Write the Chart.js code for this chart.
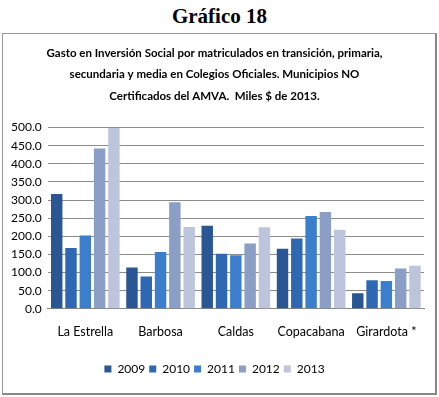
<!DOCTYPE html>
<html>
<head>
<meta charset="utf-8">
<script src="https://cdn.jsdelivr.net/npm/chart.js@4/dist/chart.umd.min.js"></script>
<style>
  body { margin: 0; background: #fff; width: 439px; height: 397px; position: relative; overflow: hidden; }
  #head { position: absolute; left: 0; top: 4px; width: 439px; text-align: center;
          font: bold 21px "Liberation Serif", serif; color: #000; }
  #box { position: absolute; left: 2px; top: 33px; width: 432px; height: 359px;
         border: 1px solid #999; border-right: 2px solid #888; border-bottom: 2px solid #888; }
  #wrap { position: absolute; left: 0; top: 0; width: 432px; height: 359px; }
</style>
</head>
<body>
<div id="head">Gráfico 18</div>
<div id="box"><div id="wrap"><canvas id="bar"></canvas></div></div>
<script>
// municipios
var categories = ["La Estrella", "Barbosa", "Caldas", "Copacabana", "Girardota *"];

// gasto por año (miles $ de 2013)
var years = ["2009", "2010", "2011", "2012", "2013"];
var values2009 = [317, 114, 229, 166, 43];
var values2010 = [168, 89, 152, 194, 79];
var values2011 = [202, 157, 148, 256, 77];
var values2012 = [442, 294, 180, 267, 111];
var values2013 = [499, 226, 225, 218, 119];

var colors = ["#2a5694", "#2f68b2", "#3b7ecb", "#8a9ec6", "#bcc5dc"];

var titleLines = [
  "Gasto en Inversión Social por matriculados en transición, primaria,",
  "secundaria y media en Colegios Oficiales. Municipios NO",
  "Certificados del AMVA.  Miles $ de 2013."
];

var font = "Lato, 'Open Sans', sans-serif";

var series = [values2009, values2010, values2011, values2012, values2013];
var datasets = [];
for (var i = 0; i < years.length; i++) {
  datasets.push({
    label: years[i],
    data: series[i],
    backgroundColor: colors[i],
    borderColor: colors[i],
    borderWidth: 0,
    barPercentage: 0.8,
    categoryPercentage: 0.95
  });
}

var ctx = document.getElementById("bar").getContext("2d");
var chart = new Chart(ctx, {
  type: "bar",
  data: { labels: categories, datasets: datasets },
  options: {
    responsive: true,
    maintainAspectRatio: false,
    animation: false,
    layout: { padding: { left: 2, right: 11, top: 0, bottom: 8 } },
    plugins: {
      title: {
        display: true,
        text: titleLines,
        color: "#000",
        font: { family: font, size: 11.5, weight: "bold", lineHeight: 1.9 },
        padding: { top: 8, bottom: 20 }
      },
      legend: {
        position: "bottom",
        // empty legend title only adds space between x labels and legend
        title: { display: true, text: "", font: { size: 1 }, padding: { top: 0, bottom: 10 } },
        labels: {
          color: "#000",
          font: { family: font, size: 12 },
          boxWidth: 7,
          boxHeight: 7,
          padding: 4
        }
      },
      tooltip: { enabled: false }
    },
    scales: {
      x: {
        grid: { display: false },
        border: { color: "#888" },
        ticks: { color: "#000", font: { family: font, size: 12.5 }, padding: 8, maxRotation: 0, autoSkip: false }
      },
      y: {
        min: 0,
        max: 500,
        grid: { color: "#8c8c8c", drawTicks: false },
        border: { display: false },
        ticks: {
          stepSize: 50,
          color: "#000",
          padding: 6,
          font: { family: font, size: 12 },
          callback: function (v) { return v.toFixed(1); }
        }
      }
    }
  }
});
</script>
</body>
</html>
